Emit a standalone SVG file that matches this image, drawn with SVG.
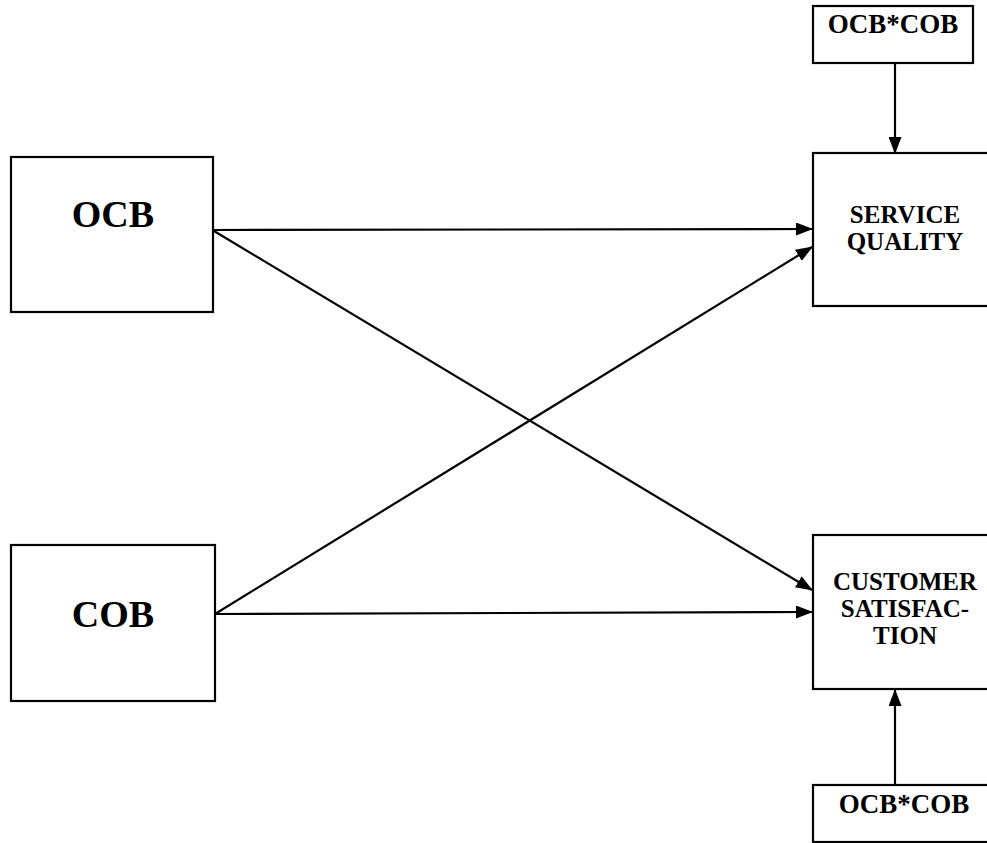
<svg xmlns="http://www.w3.org/2000/svg" width="987" height="843" viewBox="0 0 987 843">
<style>
.box{fill:#fff;stroke:#000;stroke-width:2.2}
.t{font-family:"Liberation Serif","Times New Roman",serif;font-weight:bold;fill:#000;text-anchor:middle}
.big{font-size:38px}
.mid{font-size:25px}
.sm{font-size:27px}
.c{stroke:#000;stroke-width:2.2;fill:none;marker-end:url(#ah)}
</style>
<defs>
<marker id="ah" markerWidth="17" markerHeight="13" refX="16" refY="6.5" orient="auto" markerUnits="userSpaceOnUse">
<path d="M0,0 L17,6.5 L0,13 Z" fill="#000"/>
</marker>
</defs>
<rect width="987" height="843" fill="#fff"/>
<g id="connectors">
<line class="c" x1="214" y1="230" x2="812" y2="229"/>
<line class="c" x1="214" y1="231" x2="812" y2="590"/>
<line class="c" x1="215" y1="614" x2="812" y2="247"/>
<line class="c" x1="215" y1="614" x2="812" y2="612"/>
<line class="c" x1="895" y1="63" x2="895" y2="153"/>
<line class="c" x1="895" y1="785" x2="895" y2="690"/>
</g>
<g id="ocb">
<rect class="box" x="11" y="157" width="202" height="155"/>
<text class="t big" x="113" y="227">OCB</text>
</g>
<g id="cob">
<rect class="box" x="11" y="545" width="204" height="156"/>
<text class="t big" x="113" y="627">COB</text>
</g>
<g id="int-top">
<rect class="box" x="813" y="6" width="160" height="57"/>
<text class="t sm" x="893" y="33">OCB*COB</text>
</g>
<g id="sq">
<rect class="box" x="813" y="153" width="190" height="153"/>
<text class="t mid" x="905" y="223">SERVICE</text>
<text class="t mid" x="905" y="250">QUALITY</text>
</g>
<g id="cs">
<rect class="box" x="813" y="535" width="190" height="154"/>
<text class="t mid" x="905" y="590">CUSTOMER</text>
<text class="t mid" x="905" y="617">SATISFAC-</text>
<text class="t mid" x="905" y="644">TION</text>
</g>
<g id="int-bottom">
<rect class="box" x="813" y="785" width="190" height="57"/>
<text class="t sm" x="904" y="813">OCB*COB</text>
</g>
</svg>
